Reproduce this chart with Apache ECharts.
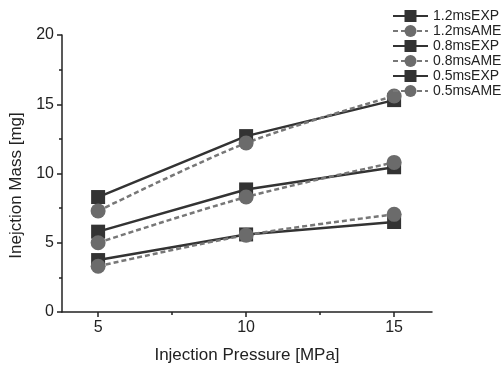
<!DOCTYPE html>
<html>
<head>
<meta charset="utf-8">
<script src="https://cdn.jsdelivr.net/npm/echarts@6/dist/echarts.min.js"></script>
<style>
  html, body { margin: 0; padding: 0; background: #fff; }
  #chart { width: 504px; height: 369px; }
</style>
</head>
<body>
<div id="chart"></div>
<script>
// injection pressure [MPa]
const pressure = [5, 10, 15];

// injection mass [mg]
const exp12 = [8.3, 12.7, 15.3];
const ame12 = [7.3, 12.2, 15.6];
const exp08 = [5.8, 8.85, 10.45];
const ame08 = [5.0, 8.3, 10.8];
const exp05 = [3.75, 5.6, 6.5];
const ame05 = [3.3, 5.55, 7.05];

const seriesNames = ['1.2msEXP', '1.2msAME', '0.8msEXP', '0.8msAME', '0.5msEXP', '0.5msAME'];
const seriesValues = [exp12, ame12, exp08, ame08, exp05, ame05];

const xTicks = [5, 10, 15];
const xMinorTicks = [7.5, 12.5];

const FONT = '"Liberation Sans", Arial, sans-serif';

const chart = echarts.init(document.getElementById('chart'), null, { renderer: 'canvas' });

const makeSeries = (name, values) => {
  const isExp = name.endsWith('EXP');
  return {
    name: name,
    type: 'line',
    data: values.map((v, i) => [pressure[i], v]),
    symbol: isExp ? 'rect' : 'circle',
    symbolSize: isExp ? 14 : 15,
    smooth: isExp ? false : 0.3,
    itemStyle: { color: isExp ? '#333333' : '#6b6b6b' },
    lineStyle: {
      width: 2.5,
      color: isExp ? '#333333' : '#777777',
      type: isExp ? 'solid' : [5, 3]
    },
    animation: false
  };
};

const option = {
  backgroundColor: '#ffffff',
  animation: false,
  grid: { left: 62, right: 72, top: 35, bottom: 56 },
  legend: {
    orient: 'vertical',
    left: 387,
    top: 4,
    itemWidth: 35,
    itemHeight: 15,
    itemGap: 1,
    textStyle: { fontFamily: FONT, fontSize: 14, color: '#222' },
    data: seriesNames
  },
  xAxis: [
    {
      type: 'value',
      min: 3.78,
      max: 16.28,
      name: 'Injection Pressure [MPa]',
      nameLocation: 'middle',
      nameGap: 35,
      nameTextStyle: { fontFamily: FONT, fontSize: 17, color: '#222' },
      axisLine: { onZero: false, lineStyle: { color: '#222', width: 1.5 } },
      axisTick: { customValues: xTicks, length: 5, lineStyle: { color: '#222', width: 1.5 } },
      axisLabel: { customValues: xTicks, fontFamily: FONT, fontSize: 16, color: '#222', margin: 8 },
      splitLine: { show: false }
    },
    {
      type: 'value',
      position: 'bottom',
      min: 3.78,
      max: 16.28,
      axisLine: { show: false },
      axisTick: { customValues: xMinorTicks, length: 3, lineStyle: { color: '#222', width: 1.5 } },
      axisLabel: { show: false },
      splitLine: { show: false }
    }
  ],
  yAxis: {
    type: 'value',
    min: 0,
    max: 20,
    interval: 5,
    name: 'Inejction Mass [mg]',
    nameLocation: 'middle',
    nameGap: 36,
    nameTextStyle: { fontFamily: FONT, fontSize: 17, color: '#222', padding: [0, 24, 0, 0] },
    axisLine: { show: true, lineStyle: { color: '#222', width: 1.5 } },
    axisTick: { show: true, length: 5, lineStyle: { color: '#222', width: 1.5 } },
    minorTick: { show: true, splitNumber: 2, length: 3, lineStyle: { color: '#222', width: 1.5 } },
    axisLabel: { fontFamily: FONT, fontSize: 16, color: '#222', margin: 8 },
    splitLine: { show: false }
  },
  series: seriesNames.map((n, i) => makeSeries(n, seriesValues[i]))
};

chart.setOption(option);
</script>
</body>
</html>
